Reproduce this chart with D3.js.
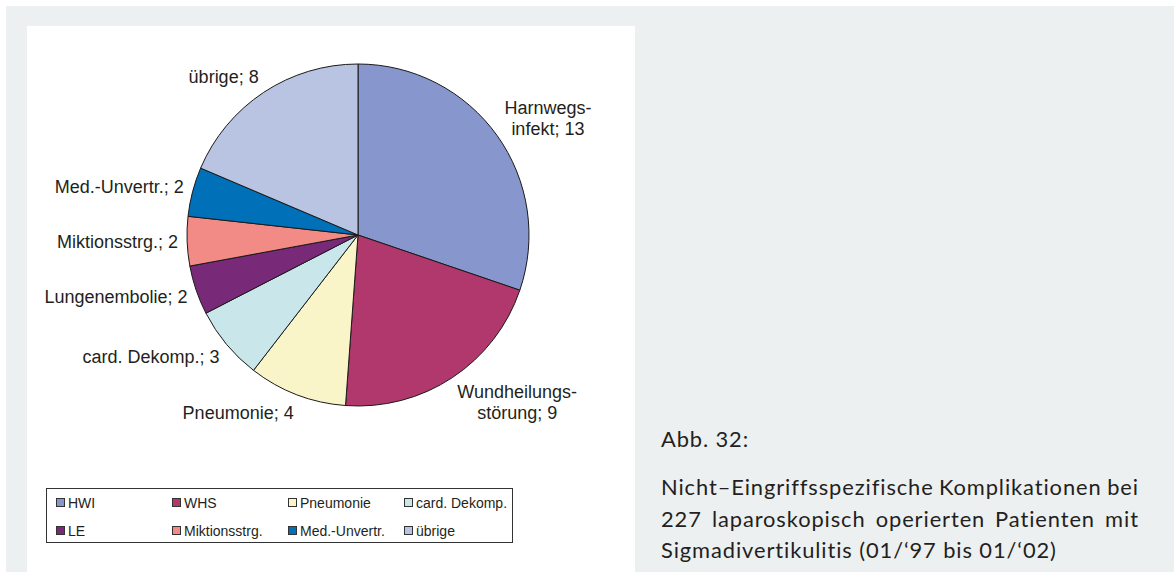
<!DOCTYPE html>
<html><head><meta charset="utf-8">
<script src="https://cdn.jsdelivr.net/npm/d3@7"></script>
<style>body{margin:0;background:#fff}svg{display:block}</style>
</head><body>
<svg id="c" width="1174" height="577"></svg>
<script>
const categories = ["HWI","WHS","Pneumonie","card. Dekomp.","LE","Miktionsstrg.","Med.-Unvertr.","übrige"];
const labelNames = ["Harnwegs-\ninfekt","Wundheilungs-\nstörung","Pneumonie","card. Dekomp.","Lungenembolie","Miktionsstrg.","Med.-Unvertr.","übrige"];
const values = [13,9,4,3,2,2,2,8];
const colors = ["#8796cc","#b0386c","#faf5c8","#c9e7ea","#782a78","#f28b85","#0070b8","#b9c3e2"];
const captionTitle = "Abb. 32:";
const captionLines = ["Nicht–Eingriffsspezifische Komplikationen bei","227 laparoskopisch operierten Patienten mit","Sigmadivertikulitis (01/‘97 bis 01/‘02)"];

const svg = d3.select("#c");
// backgrounds
svg.append("rect").attr("x",6).attr("y",6).attr("width",1168).attr("height",566).attr("fill","#edf0f1");
svg.append("rect").attr("x",27).attr("y",26).attr("width",608).attr("height",546).attr("fill","#ffffff");

const cx = 358, cy = 235, R = 171;
const data = categories.map((c,i)=>({cat:c, label:labelNames[i], value:values[i], color:colors[i]}));
const pie = d3.pie().sort(null).value(d=>d.value);
const arcs = pie(data);
const arc = d3.arc().innerRadius(0).outerRadius(R);
const g = svg.append("g").attr("transform",`translate(${cx},${cy})`);
g.selectAll("path").data(arcs).join("path")
  .attr("d",arc).attr("fill",d=>d.data.color)
  .attr("stroke","#1a1a1a").attr("stroke-width",1).attr("stroke-linejoin","round");

// labels
const fs = 18, lineH = 20.5, gap = 9;
const lg = svg.append("g").attr("font-family","'Liberation Sans', Arial, sans-serif")
  .attr("font-size",fs).attr("fill","#231f20");
arcs.forEach(a=>{
  const th = (a.startAngle+a.endAngle)/2;
  const px = cx + (R+gap)*Math.sin(th), py = cy - (R+gap)*Math.cos(th);
  const lines = (a.data.label + "; " + a.data.value).split("\n");
  const t = lg.append("text").attr("text-anchor","middle");
  const ts = lines.map(l=>t.append("tspan").text(l));
  const bw = d3.max(ts, s=>s.node().getComputedTextLength());
  const h = lines.length*lineH;
  const top = py - h*(1+Math.cos(th))/2;
  const left = Math.sin(th) >= 0 ? px : px - bw;
  ts.forEach((s,i)=>s.attr("x",left+bw/2).attr("y",top + i*lineH + 16.5));
});

// legend
const leg = svg.append("g");
leg.append("rect").attr("x",46.5).attr("y",488.5).attr("width",466).attr("height",54)
  .attr("fill","none").attr("stroke","#333").attr("stroke-width",1);
const colX = d3.scaleLinear().domain([0,1]).range([56,172]);
const rowY = d3.scaleLinear().domain([0,1]).range([498,526]);
data.forEach((d,i)=>{
  const c = i%4, r = Math.floor(i/4);
  leg.append("rect").attr("x",colX(c)+0.5).attr("y",rowY(r)+0.5).attr("width",8).attr("height",8)
    .attr("fill",d.color).attr("stroke","#333").attr("stroke-width",1);
  leg.append("text").attr("x",colX(c)+12).attr("y",rowY(r)+9.5)
    .attr("font-family","'Liberation Sans', Arial, sans-serif").attr("font-size",14)
    .attr("fill","#231f20").text(d.cat);
});

// caption
const capFont = "Lato, 'DejaVu Sans', sans-serif", ls = 0.9;
const capX = 661, capRight = 1138, lastW = 396;
const cap = svg.append("g").attr("font-family",capFont).attr("fill","#231f20").attr("letter-spacing",ls);
// font size fitted so the last (unjustified) line has the reference width
cap.attr("font-size",20);
const probe = cap.append("text").text(captionLines[2]);
const w0 = probe.node().getComputedTextLength();
probe.remove();
const n3 = captionLines[2].length;
const capFs = 20 * (lastW - ls*n3) / (w0 - ls*n3);
cap.attr("font-size",capFs);
cap.append("text").attr("x",capX).attr("y",447).text(captionTitle);
const baselines = [495, 527, 558];
captionLines.forEach((line,li)=>{
  const t = cap.append("text").attr("y",baselines[li]);
  const words = line.split(" ");
  if(li === captionLines.length-1){
    t.attr("x",capX).text(line);
    return;
  }
  const spans = words.map(w=>t.append("tspan").text(w));
  const widths = spans.map(s=>s.node().getComputedTextLength());
  const total = d3.sum(widths);
  const sp = (capRight - capX - total + ls)/(words.length-1);
  let x = capX;
  spans.forEach((s,i)=>{ s.attr("x",x); x += widths[i] + sp; });
});
</script>
</body></html>
